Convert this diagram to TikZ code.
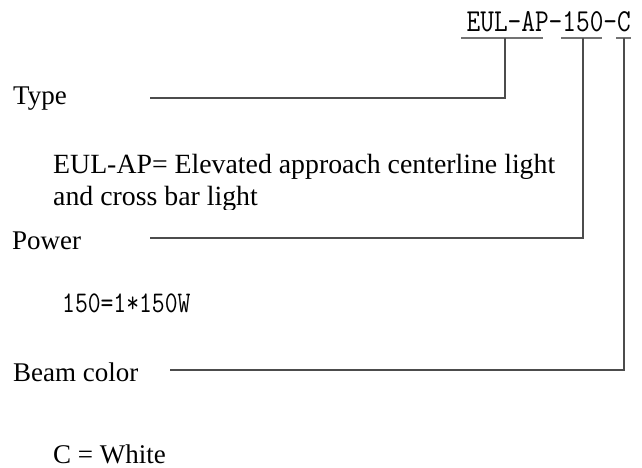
\documentclass[tikz,border=0pt]{standalone}
\usepackage{fontspec}
\setmainfont{Liberation Serif}
\newfontfamily\codefont[FakeStretch=0.83]{Latin Modern Mono}
\begin{document}
\begin{tikzpicture}[x=1pt,y=-1pt,
  lbl/.style={anchor=base west,inner sep=0pt,font=\fontsize{27}{32}\selectfont},
  desc/.style={anchor=base west,inner sep=0pt,font=\fontsize{27.8}{32}\selectfont},
  codetxt/.style={anchor=base east,inner sep=0pt,font=\codefont\fontsize{32}{36}\selectfont},
  valtxt/.style={anchor=base west,inner sep=0pt,font=\codefont\fontsize{30}{34}\selectfont},
  conn/.style={draw=black!70,line width=1.2pt},
  uline/.style={draw=black!55,line width=1.5pt}]
\useasboundingbox[fill=white] (0,0) rectangle (642,468);
% code
\node[codetxt] (code) at (631,32) {EUL-AP-150-C};
\coordinate (u1a) at (461,38); \coordinate (u1b) at (543,38); \coordinate (u1) at (505,38);
\coordinate (u2a) at (561,38); \coordinate (u2b) at (602,38); \coordinate (u2) at (583,38);
\coordinate (u3a) at (616,38); \coordinate (u3b) at (631,38); \coordinate (u3) at (624,38);
\draw[uline] (u1a) -- (u1b);
\draw[uline] (u2a) -- (u2b);
\draw[uline] (u3a) -- (u3b);
% labels
\node[lbl] (type) at (13,105) {Type};
\node[lbl] (power) at (12,249) {Power};
\node[lbl] (beam) at (13,381) {Beam color};
\coordinate (t1) at (150,98);
\coordinate (p1) at (150,238);
\coordinate (b1) at (170,370);
\draw[conn] (u1) |- (t1);
\draw[conn] (u2) |- (p1);
\draw[conn] (u3) |- (b1);
% descriptions
\node[desc] (desc1) at (53,173) {EUL-AP= Elevated approach centerline light};
\begin{scope}
\clip (0,0) rectangle (642,209);
\node[desc] (desc2) at (53,205) {and cross bar light};
\end{scope}
\node[valtxt] (pval) at (62,312) {150=1*150W};
\node[lbl] (cval) at (53,463) {C = White};
\end{tikzpicture}
\end{document}
